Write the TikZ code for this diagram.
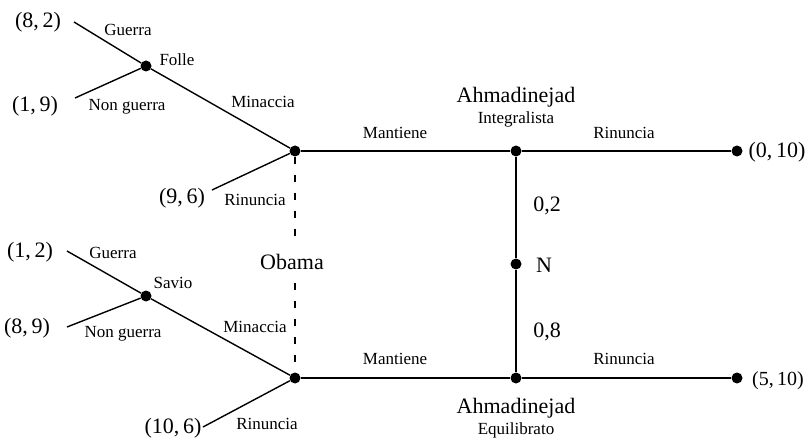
\documentclass[tikz,border=0pt]{standalone}
\usepackage{fontspec}
\setmainfont{Liberation Serif}
\begin{document}
\begin{tikzpicture}[x=1pt,y=-1pt,
  dot/.style={circle,fill=black,inner sep=0pt,minimum size=11pt},
  edge/.style={line width=1.4pt},
  info/.style={line width=1.4pt,dash pattern=on 7pt off 11pt},
  lbl/.style={inner sep=0pt,font=\fontsize{17}{20}\selectfont},
  big/.style={inner sep=0pt,font=\fontsize{22}{26}\selectfont},
  pay/.style={inner sep=0pt,font=\fontsize{22}{26}\selectfont}]
\useasboundingbox (0,0) rectangle (808,446);
% decision nodes
\node[dot] (folle) at (146,66) {};
\node[dot] (savio) at (146,296) {};
\node[dot] (ob1) at (295,151) {};
\node[dot] (ob2) at (295,378) {};
\node[dot] (ah1) at (516,151) {};
\node[dot] (ah2) at (516,378) {};
\node[dot] (nat) at (516,264) {};
\node[dot] (t1) at (737,151) {};
\node[dot] (t2) at (737,378) {};
% free ends
\coordinate (e82) at (74,22);
\coordinate (e19) at (75,98);
\coordinate (e96) at (212,190);
\coordinate (e12) at (67,251);
\coordinate (e89) at (67,327);
\coordinate (e106) at (203,427);
% edges
\draw[edge] (e82) -- (folle);
\draw[edge] (e19) -- (folle);
\draw[edge] (folle) -- (ob1);
\draw[edge] (e96) -- (ob1);
\draw[edge] (e12) -- (savio);
\draw[edge] (e89) -- (savio);
\draw[edge] (savio) -- (ob2);
\draw[edge] (e106) -- (ob2);
\draw[edge] (ob1) -- (ah1) -- (t1);
\draw[edge] (ob2) -- (ah2) -- (t2);
\draw[edge] (ah1) -- (nat) -- (ah2);
% information set
\node[big] (obama) at (292,262) {Obama};
\draw[info] (ob1) -- ([xshift=3pt,yshift=16pt]obama.north);
\draw[info] ([xshift=3pt,yshift=-13pt]obama.south) -- (ob2);
% payoffs
\node[pay] (p82) at (38,22) {(8,\,2)};
\node[pay] (p19) at (35,106) {(1,\,9)};
\node[pay] (p96) at (182,198) {(9,\,6)};
\node[pay] (p12) at (30,252) {(1,\,2)};
\node[pay] (p89) at (27,328) {(8,\,9)};
\node[pay] (p106) at (173,428) {(10,\,6)};
\node[pay] (p010) at (777,152) {(0,\,10)};
\node[inner sep=0pt,font=\fontsize{20}{24}\selectfont] (p510) at (778,381) {(5,\,10)};
% action labels
\node[lbl] at (128,30) {Guerra};
\node[lbl] at (177,60) {Folle};
\node[lbl] at (127,107) {Non guerra};
\node[lbl] at (263,102) {Minaccia};
\node[lbl] at (255,200) {Rinuncia};
\node[lbl] at (113,253) {Guerra};
\node[lbl] at (173,283) {Savio};
\node[lbl] at (123,334) {Non guerra};
\node[lbl] at (255,327) {Minaccia};
\node[lbl] at (267,424) {Rinuncia};
\node[lbl] at (395,133) {Mantiene};
\node[lbl] at (395,359) {Mantiene};
\node[lbl] at (624,133) {Rinuncia};
\node[lbl] at (624,359) {Rinuncia};
\node[big] at (516,97) {Ahmadinejad};
\node[lbl] at (516,119) {Integralista};
\node[big] at (516,408) {Ahmadinejad};
\node[lbl] at (516,430) {Equilibrato};
\node[big] at (547,206) {0,2};
\node[big] at (544,265) {N};
\node[big] at (547,332) {0,8};
\end{tikzpicture}
\end{document}
